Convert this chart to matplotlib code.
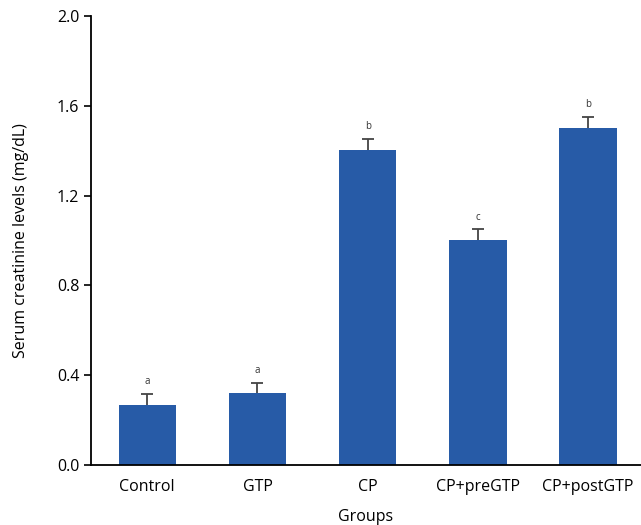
import matplotlib.pyplot as plt
import numpy as np

plt.rcParams['font.family'] = ['Open Sans', 'DejaVu Sans']

groups = ['Control', 'GTP', 'CP', 'CP+preGTP', 'CP+postGTP']
means = [0.267, 0.32, 1.403, 1.002, 1.501]
errs = [0.05, 0.045, 0.05, 0.048, 0.05]
letters = ['a', 'a', 'b', 'c', 'b']

fig = plt.figure(figsize=(6.41, 5.25), dpi=100)
ax = fig.add_axes([0.142, 0.1143, 0.858, 0.8552])

x = np.arange(len(groups))
ax.bar(x, means, width=0.52, color='#275BA7')
line, caps, bars = ax.errorbar(x, means, yerr=[np.zeros(len(errs)), errs], fmt='none',
                               ecolor='#444444', elinewidth=1.3, capsize=4, capthick=1.3)
caps[0].set_visible(False)
for xi, m, e, l in zip(x, means, errs, letters):
    ax.text(xi, m + e + 0.03, l, ha='center', va='bottom', fontsize=7, color='#333333')

ax.set_xlim(-0.51, 4.48)
ax.set_ylim(0, 2.0)
ax.set_yticks([0.0, 0.4, 0.8, 1.2, 1.6, 2.0])
ax.set_yticklabels(['0.0', '0.4', '0.8', '1.2', '1.6', '2.0'])
ax.set_xticks(x)
ax.set_xticklabels(groups)
ax.tick_params(axis='x', length=0, labelsize=11.5, pad=10)
ax.tick_params(axis='y', length=5, width=1.2, labelsize=11.5, direction='out')
for s in ['top', 'right']:
    ax.spines[s].set_visible(False)
for s in ['left', 'bottom']:
    ax.spines[s].set_linewidth(1.3)
ax.set_ylabel('Serum creatinine levels (mg/dL)', fontsize=11.5, labelpad=20)
ax.set_xlabel('Groups', fontsize=11.5, labelpad=10)

fig.savefig('out.png', dpi=100)
